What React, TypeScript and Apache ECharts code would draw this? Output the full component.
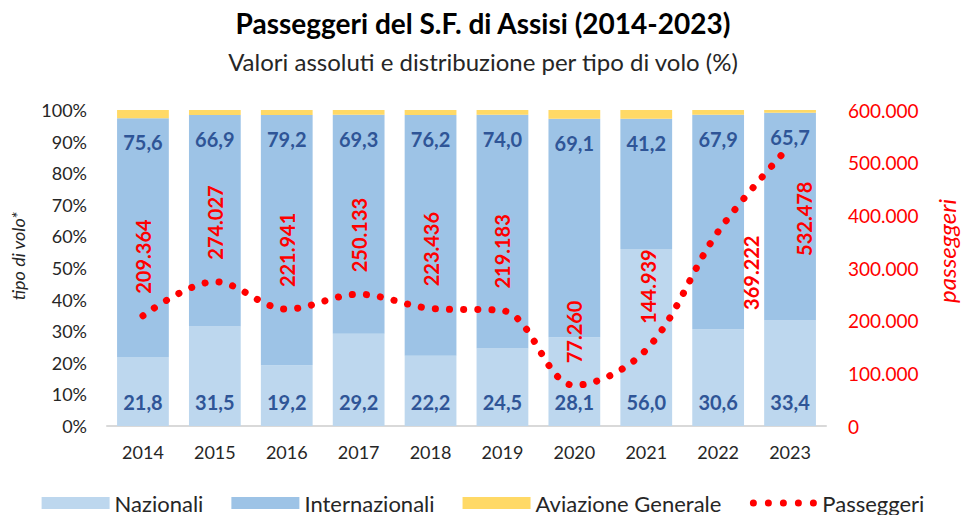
import React, { useEffect, useRef } from "react";
import * as echarts from "echarts";

const years = ["2014", "2015", "2016", "2017", "2018", "2019", "2020", "2021", "2022", "2023"];
const nazionali = [21.8, 31.5, 19.2, 29.2, 22.2, 24.5, 28.1, 56.0, 30.6, 33.4];
const internazionali = [75.6, 66.9, 79.2, 69.3, 76.2, 74.0, 69.1, 41.2, 67.9, 65.7];
const aviazioneGenerale = [2.6, 1.6, 1.6, 1.5, 1.6, 1.5, 2.8, 2.8, 1.5, 0.9];
const passeggeri = [209364, 274027, 221941, 250133, 223436, 219183, 77260, 144939, 369222, 532478];
const labelBelow = ["2022", "2023"];
const labelDistance = [22, 22, 22, 22, 22, 22, 22, 26, 4, 36];
const labelShift = [0, 0, 0, 0, 0, 0, 0, 2, 33, 14];

const FONT = "Lato, 'Noto Sans', sans-serif";
const DOTS_ICON =
  "path://M0,0M68,12" +
  "M0.5,6a3.5,3.5 0 1,0 7,0a3.5,3.5 0 1,0 -7,0" +
  "M15.5,6a3.5,3.5 0 1,0 7,0a3.5,3.5 0 1,0 -7,0" +
  "M30.5,6a3.5,3.5 0 1,0 7,0a3.5,3.5 0 1,0 -7,0" +
  "M45.5,6a3.5,3.5 0 1,0 7,0a3.5,3.5 0 1,0 -7,0" +
  "M60.5,6a3.5,3.5 0 1,0 7,0a3.5,3.5 0 1,0 -7,0";

function fmtThousands(v: number): string {
  return String(Math.round(v)).replace(/\B(?=(\d{3})+(?!\d))/g, ".");
}

export default function App() {
  const ref = useRef<HTMLDivElement>(null);

  useEffect(() => {
    document.body.style.margin = "0";
    if (!ref.current) return;
    const chart = echarts.init(ref.current, null, { renderer: "svg" });

    const lineData = passeggeri.map((v, i) => {
      const below = labelBelow.includes(years[i]);
      return {
        value: v,
        label: {
          position: below ? "bottom" : "top",
          align: below ? "right" : "left",
          distance: labelDistance[i],
          offset: [0, labelShift[i]],
        },
      };
    });

    const barLabel = (pos: string) => ({
      show: true,
      position: pos,
      distance: 14,
      formatter: (p: any) => p.value.toFixed(1).replace(".", ","),
      fontFamily: FONT,
      fontSize: 20,
      fontWeight: "bold",
      color: "#2F5597",
    });

    chart.setOption({
      animation: false,
      textStyle: { fontFamily: FONT },
      title: [
        {
          text: "Passeggeri del S.F. di Assisi (2014-2023)",
          left: "center",
          top: 4,
          textStyle: { fontFamily: FONT, fontSize: 28, fontWeight: "bold", color: "#000000" },
        },
        {
          text: "Valori assoluti e distribuzione per tipo di volo (%)",
          left: "center",
          top: 44,
          textStyle: { fontFamily: FONT, fontSize: 24, fontWeight: "normal", color: "#262626" },
        },
      ],
      legend: {
        bottom: -4,
        left: "center",
        itemWidth: 68,
        itemHeight: 12,
        itemGap: 28,
        textStyle: { fontFamily: FONT, fontSize: 22, color: "#262626" },
        data: [
          { name: "Nazionali", icon: "rect" },
          { name: "Internazionali", icon: "rect" },
          { name: "Aviazione Generale", icon: "rect" },
          { name: "Passeggeri", icon: DOTS_ICON },
        ],
      },
      grid: { left: 107, right: 123, top: 110, bottom: 89, containLabel: false },
      xAxis: {
        type: "category",
        data: years,
        axisLine: { show: true, lineStyle: { color: "#D9D9D9", width: 2 } },
        axisTick: { show: false },
        axisLabel: { fontFamily: FONT, fontSize: 18, color: "#262626", margin: 17 },
      },
      yAxis: [
        {
          type: "value",
          min: 0,
          max: 100,
          interval: 10,
          name: "tipo di volo*",
          nameLocation: "middle",
          nameGap: 80,
          nameRotate: 90,
          nameTextStyle: {
            fontFamily: FONT,
            fontSize: 18,
            fontStyle: "italic",
            color: "#262626",
            padding: [0, 0, 0, 24],
          },
          axisLine: { show: false },
          axisTick: { show: false },
          splitLine: { show: false },
          axisLabel: { formatter: "{value}%", fontFamily: FONT, fontSize: 18, color: "#262626", margin: 20 },
        },
        {
          type: "value",
          min: 0,
          max: 600000,
          interval: 100000,
          name: "passeggeri",
          nameLocation: "middle",
          nameGap: 108,
          nameRotate: 90,
          nameTextStyle: {
            fontFamily: FONT,
            fontSize: 24,
            fontStyle: "italic",
            color: "#FF0000",
            padding: [0, 0, 0, 34],
          },
          axisLine: { show: false },
          axisTick: { show: false },
          splitLine: { show: false },
          axisLabel: {
            formatter: (v: number) => fmtThousands(v),
            fontFamily: FONT,
            fontSize: 19,
            color: "#FF0000",
            margin: 22,
          },
        },
      ],
      series: [
        {
          name: "Nazionali",
          type: "bar",
          stack: "tot",
          data: nazionali,
          barWidth: "72%",
          itemStyle: { color: "#BDD7EE" },
          label: barLabel("insideBottom"),
        },
        {
          name: "Internazionali",
          type: "bar",
          stack: "tot",
          data: internazionali,
          barWidth: "72%",
          itemStyle: { color: "#9DC3E6" },
          label: barLabel("insideTop"),
        },
        {
          name: "Aviazione Generale",
          type: "bar",
          stack: "tot",
          data: aviazioneGenerale,
          barWidth: "72%",
          itemStyle: { color: "#FFD966" },
        },
        {
          name: "Passeggeri",
          type: "line",
          yAxisIndex: 1,
          data: lineData,
          smooth: 0.35,
          showSymbol: true,
          symbol: "circle",
          symbolSize: 0,
          lineStyle: { color: "#FF0000", width: 7, type: [0.1, 14], cap: "round" },
          itemStyle: { color: "#FF0000" },
          label: {
            show: true,
            rotate: 90,
            verticalAlign: "middle",
            formatter: (p: any) => fmtThousands(p.value),
            fontFamily: FONT,
            fontSize: 20,
            fontWeight: "bold",
            color: "#FF0000",
          },
          z: 5,
        },
      ],
    });

    return () => chart.dispose();
  }, []);

  return <div ref={ref} style={{ width: 966, height: 515 }} />;
}
